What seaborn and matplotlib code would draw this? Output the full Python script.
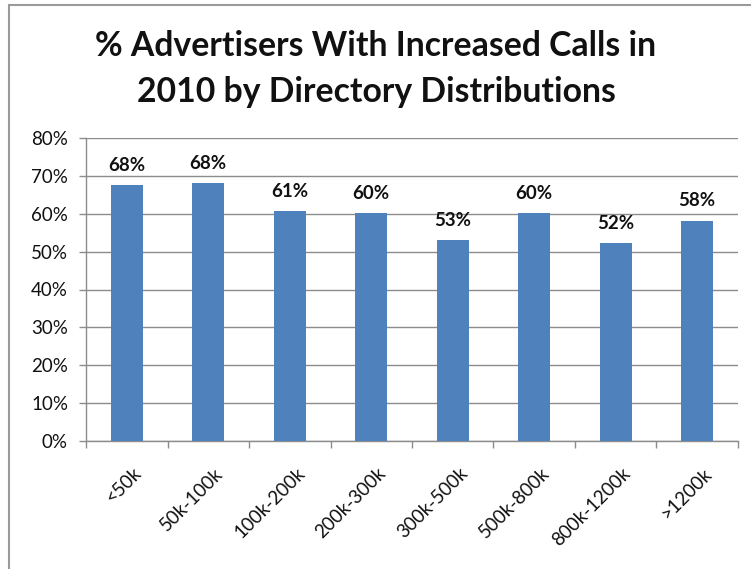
import matplotlib
matplotlib.use("Agg")
import matplotlib.pyplot as plt
from matplotlib.lines import Line2D
from matplotlib.ticker import FuncFormatter
from matplotlib.transforms import ScaledTranslation
import seaborn as sns
import pandas as pd

# Share of advertisers reporting more calls, by directory distribution size
categories = ["<50k", "50k-100k", "100k-200k", "200k-300k",
              "300k-500k", "500k-800k", "800k-1200k", ">1200k"]
pct_increased = [67.6, 68.2, 60.8, 60.2, 53.1, 60.1, 52.3, 58.2]
y_ticks = [0, 10, 20, 30, 40, 50, 60, 70, 80]

df = pd.DataFrame({"distribution": categories, "pct": pct_increased})

sns.set_theme(style="white")
plt.rcParams["font.family"] = ["Lato", "DejaVu Sans"]

W, H = 751, 569
fig = plt.figure(figsize=(W / 100, H / 100), dpi=100)
ax = fig.add_axes([86 / W, 1 - 441 / H, (738 - 86) / W, (441 - 138) / H])

bar_color = "#4F81BD"
sns.barplot(data=df, x="distribution", y="pct", color=bar_color,
            width=0.39, saturation=1, ax=ax, zorder=3)
for p in ax.patches:
    p.set_edgecolor("none")

ax.set_ylim(0, 80)
ax.set_xlim(-0.5, len(categories) - 0.5)
ax.set_yticks(y_ticks)
ax.yaxis.set_major_formatter(FuncFormatter(lambda v, _: f"{v:.0f}%"))
ax.grid(axis="y", color="#8c8c8c", linewidth=1.0, zorder=0)
ax.set_axisbelow(True)

for side in ("top", "right"):
    ax.spines[side].set_visible(False)
for side in ("left", "bottom"):
    ax.spines[side].set_color("#8c8c8c")
    ax.spines[side].set_linewidth(1.0)

# category boundary tick marks under the axis
ax.set_xticks([i - 0.5 for i in range(len(categories) + 1)], minor=True)
ax.tick_params(axis="x", which="minor", bottom=True, length=5,
               color="#8c8c8c", width=1)
ax.tick_params(axis="x", which="major", bottom=False, length=0, pad=17)
ax.tick_params(axis="y", which="major", left=True, length=5,
               color="#8c8c8c", width=1, pad=8)

ax.set_xticks(range(len(categories)))
ax.set_xticklabels(categories, rotation=45, ha="right",
                   rotation_mode="anchor", fontsize=13.5, color="#111111")
shift = ScaledTranslation(6 / 100, 0, fig.dpi_scale_trans)
for lbl in ax.get_xticklabels():
    lbl.set_transform(lbl.get_transform() + shift)
for lbl in ax.get_yticklabels():
    lbl.set_fontsize(13.5)
    lbl.set_color("#111111")
ax.set_xlabel("")
ax.set_ylabel("")

# value labels above bars
for i, v in enumerate(pct_increased):
    ax.annotate(f"{v:.0f}%", (i, v), xytext=(0, 8), textcoords="offset points",
                ha="center", va="bottom", fontsize=13.5, fontweight="bold",
                color="#111111")

fig.text(376 / W, 1 - 69 / H,
         "% Advertisers With Increased Calls in\n2010 by Directory Distributions",
         ha="center", va="center", fontsize=24.3, fontweight="bold",
         linespacing=1.5, color="#111111")

# outer frame edges
fig.add_artist(Line2D([9 / W, 1], [1 - 4.5 / H, 1 - 4.5 / H],
                      transform=fig.transFigure, color="#9a9a9a", linewidth=1.5))
fig.add_artist(Line2D([9 / W, 9 / W], [0, 1 - 4.5 / H],
                      transform=fig.transFigure, color="#9a9a9a", linewidth=1.5))

fig.savefig("out.png", dpi=100, facecolor="white")
